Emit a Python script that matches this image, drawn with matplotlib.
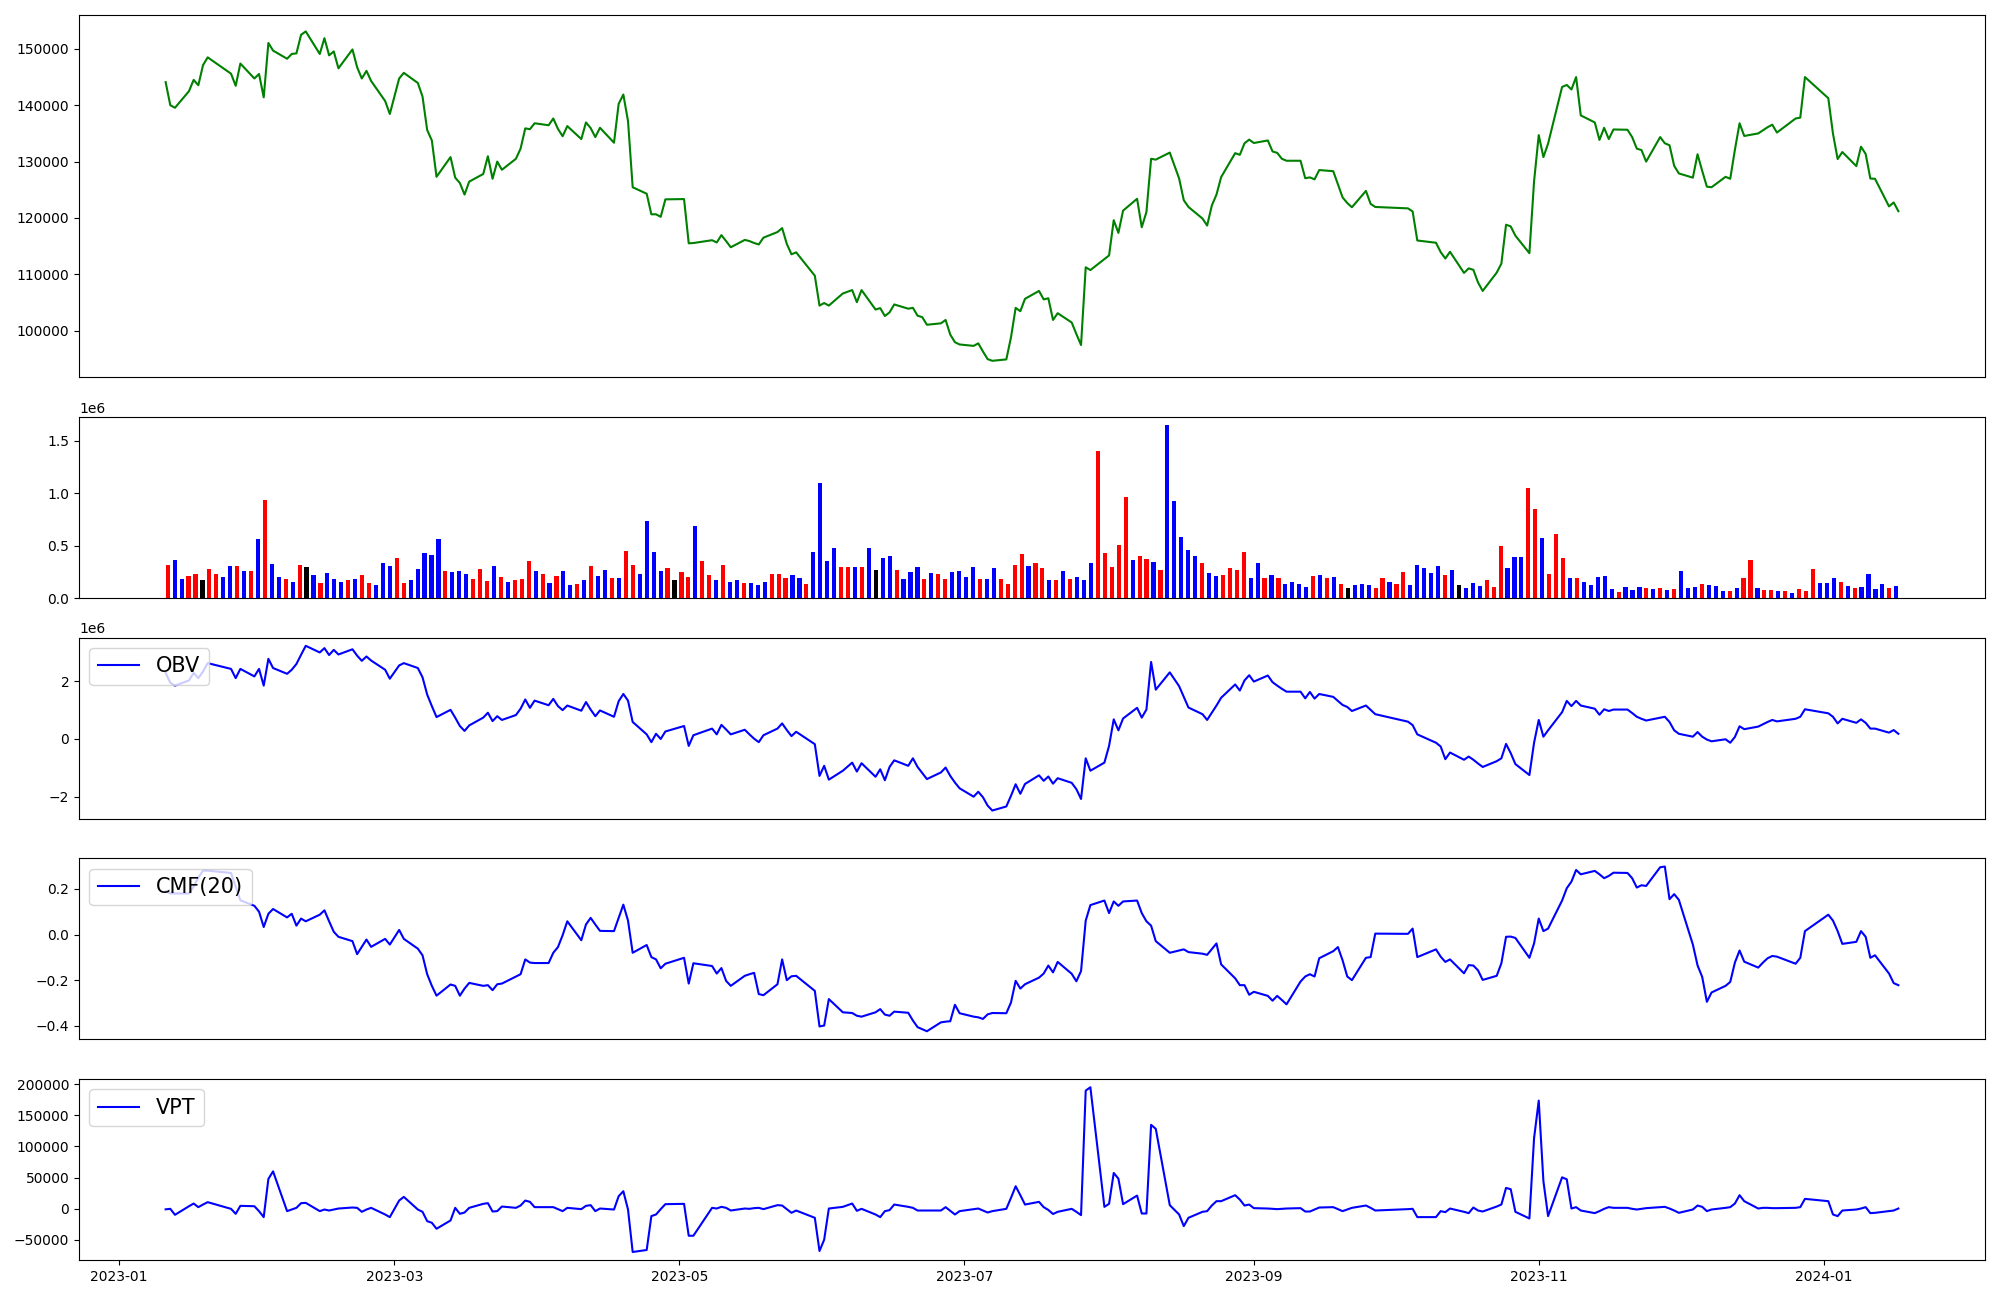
import numpy as np
import pandas as pd
import matplotlib
matplotlib.use("Agg")
import matplotlib.pyplot as plt

# KRX holidays inside the window
holidays = ["2023-01-23", "2023-01-24", "2023-03-01", "2023-05-01", "2023-05-05",
            "2023-05-29", "2023-06-06", "2023-08-15", "2023-09-28", "2023-09-29",
            "2023-10-02", "2023-10-03", "2023-10-09", "2023-12-25", "2023-12-29",
            "2024-01-01"]
dates = pd.bdate_range("2023-01-11", "2024-01-17")
dates = dates[~dates.isin(pd.to_datetime(holidays))]

close = [
    144100, 140000, 139550, 142500, 144500, 143550, 147100, 148500, 145600, 143450, 147400, 144750, 145550,
    141400, 151050, 149700, 148250, 149100, 149200, 152500, 153100, 149100, 151900, 148850, 149550, 146550,
    149900, 146750, 144750, 146100, 144300, 140750, 138450,
    144750, 145750, 143950, 141550, 135600, 133750, 127300, 130800, 127150, 126200, 124150, 126450, 127800,
    130950, 126950, 130000, 128550, 130500, 132300, 135900, 135750, 136800,
    136450, 137650, 135800, 134500, 136300, 134000, 136950, 135950, 134350, 136000, 133350, 140250, 141900,
    137200, 125450, 124300, 120650, 120650, 120200, 123300,
    123350, 115500, 115550, 116050, 115650, 116950, 115900, 114800, 116100, 115900, 115550, 115300, 116500,
    117500, 118200, 115400, 113550, 113900, 109750, 104450,
    104900, 104450, 106600, 107200, 105050, 107200, 103750, 104000, 102600, 103250, 104650, 103900, 104050,
    102650, 102400, 101050, 101300, 101900, 99300, 97950, 97550,
    97300, 97750, 96300, 94950, 94650, 94900, 98800, 104050, 103450, 105650, 107050, 105550, 105750,
    101900, 103100, 101450, 99400, 97450, 111250, 110750, 112700,
    113350, 119600, 117350, 121300, 123400, 118350, 121050, 130500, 130350, 131600, 127000, 123150, 121950,
    119900, 118650, 122200, 124150, 127250, 131500, 131200, 133250, 133900,
    133300, 133750, 131800, 131550, 130500, 130150, 130150, 127050, 127200, 126850, 128500, 128300, 126000,
    123650, 122650, 121900, 124800, 122500, 121950,
    121700, 121150, 116000, 115600, 113950, 112800, 114000, 110250, 111050, 110800, 108550, 107050, 110300,
    111900, 118800, 118500, 116850, 113750, 126500,
    134700, 130800, 133200, 143250, 143600, 142800, 145000, 138200, 136950, 133850, 136000, 134000, 135700,
    135650, 134350, 132300, 132050, 130000, 134350, 133250, 132900, 129250,
    127900, 127150, 131300, 128350, 125550, 125450, 127300, 126950, 132100, 136800, 134550, 135000, 135550,
    136100, 136550, 135150, 137650, 137800, 145000,
    141250, 134950, 130450, 131700, 129200, 132650, 131350, 127000, 126950, 122050, 122750, 121200,
]

# volume in thousands of shares
volume_k = [
    314, 362, 181, 210, 229, 171, 276, 229, 200, 305, 305, 257, 257, 562, 933, 324, 200, 181, 152, 314,
    295, 219, 143, 238, 181, 152, 171, 181, 219, 143, 124, 333, 305, 381, 143, 171, 276, 429, 410, 562,
    257, 248, 257, 229, 181, 276, 162, 305, 200, 152, 171, 181, 352, 257, 229, 143, 210, 257, 124, 133,
    171, 305, 210, 267, 191, 191, 448, 314, 229, 733, 438, 257, 286, 171, 248, 200, 686, 352, 219, 171,
    314, 152, 171, 143, 143, 124,
    152, 229, 229, 191, 219, 191, 133, 438, 1095, 352, 476, 295, 295, 295, 295, 476, 267, 381, 400, 267,
    181, 248, 295, 181, 238, 229, 181, 248, 257, 200, 295, 181, 181, 286, 181, 133, 314, 419, 305, 333,
    286, 171, 171, 257, 181, 200, 171, 333, 1400, 429, 295, 505, 962, 362, 400, 371, 343, 267, 1648, 924,
    581, 457, 400, 333, 238, 210, 219, 286, 267, 438, 191, 333, 191, 219, 191, 133, 152, 133, 105, 210,
    219, 191, 200, 133, 95, 124,
    133, 124, 95, 191, 152, 133, 248, 124, 314, 286, 238, 305, 219, 267, 124, 95, 143, 114, 171, 105,
    495, 286, 391, 391, 1048, 848, 572, 229, 610, 381, 191, 191, 152, 124, 200, 210, 86, 57, 105, 76,
    105, 95, 86, 95, 76, 86, 257, 95, 105, 133, 124, 114, 67, 67, 95, 191, 362, 95, 76, 76,
    67, 67, 48, 86, 67, 276, 143, 143, 191, 152, 114, 95, 105, 229, 86, 133, 95, 114,
]

# candle direction per day: r = up, b = down, k = flat
candle = ("rbbrrkrrbb" "rbrbrbbrbr" "kbrbbbrbrr" "bbbrrbbbbb" "rbbbrrrbrb" "rrrbrbrbbr"
          "brbbrbrrbb" "bbrkrrbrrb" "rbbrbb"
          "brrrbbrbbb" "brrbrbkbbr" "bbbrbrrbbb" "brbbrrrrbr" "rbrbrbbbrr" "rrrbrrbrbb"
          "bbbrbbrrrr" "bbrbrbbbbr" "brbrkb"
          "bbrrbrrbbb" "bbrbkbbbrr" "rbbbrrbrrr" "brbbbbbrbb" "brbrbrbbbr" "bbbrbrrbrr"
          "brbrrrbbbr" "brbbbbrb")

# OBV in millions
obv_m = [
    2.29, 1.95, 1.85, 2.03, 2.29, 2.11, 2.34, 2.63, 2.43, 2.11, 2.43, 2.17, 2.43,
    1.85, 2.78, 2.46, 2.26, 2.40, 2.60, 2.92, 3.23, 3.00, 3.15, 2.91, 3.09, 2.93, 3.11, 2.89, 2.71, 2.86,
    2.72, 2.40, 2.09,
    2.55, 2.63, 2.46, 2.14, 1.54, 1.14, 0.76, 1.01, 0.74, 0.45, 0.28, 0.47, 0.74, 0.91, 0.62, 0.79, 0.66,
    0.83, 1.05, 1.37, 1.08, 1.33,
    1.17, 1.39, 1.14, 1.00, 1.16, 0.98, 1.28, 1.02, 0.79, 0.99, 0.77, 1.31, 1.56, 1.33, 0.59, 0.16, -0.11,
    0.18, 0.00, 0.26,
    0.45, -0.24, 0.13, 0.36, 0.16, 0.49, 0.33, 0.16, 0.32, 0.16, 0.01, -0.11, 0.13, 0.36, 0.54, 0.31, 0.10,
    0.25, -0.18, -1.28,
    -0.93, -1.41, -1.10, -0.82, -1.13, -0.84, -1.31, -1.05, -1.43, -0.97, -0.74, -0.93, -0.67, -0.97, -1.18,
    -1.39, -1.16, -0.99, -1.28, -1.51, -1.71,
    -2.00, -1.83, -2.02, -2.31, -2.48, -2.34, -1.97, -1.57, -1.90, -1.56, -1.26, -1.45, -1.30, -1.55, -1.36,
    -1.52, -1.74, -2.08, -0.67, -1.10, -0.82,
    -0.24, 0.68, 0.30, 0.71, 1.08, 0.74, 1.02, 2.67, 1.71, 2.31, 1.83, 1.46, 1.09, 0.86, 0.66, 0.91, 1.16,
    1.43, 1.89, 1.68, 2.03, 2.21,
    1.99, 2.20, 1.97, 1.85, 1.74, 1.64, 1.64, 1.41, 1.63, 1.40, 1.56, 1.46, 1.32, 1.18, 1.11, 0.97, 1.16,
    1.01, 0.86,
    0.60, 0.48, 0.16, -0.13, -0.26, -0.70, -0.47, -0.72, -0.61, -0.72, -0.85, -0.97, -0.77, -0.67, -0.17,
    -0.49, -0.87, -1.25, -0.13,
    0.66, 0.08, 0.30, 0.93, 1.32, 1.14, 1.32, 1.16, 1.05, 0.84, 1.03, 0.97, 1.02, 1.02, 0.90, 0.77, 0.70,
    0.64, 0.74, 0.77, 0.59, 0.30,
    0.18, 0.08, 0.24, 0.08, -0.02, -0.08, -0.01, -0.13, 0.07, 0.44, 0.34, 0.43, 0.51, 0.59, 0.66, 0.61, 0.70,
    0.77, 1.03,
    0.89, 0.77, 0.54, 0.70, 0.56, 0.68, 0.56, 0.36, 0.36, 0.22, 0.31, 0.18,
]

cmf20 = [
    0.19, 0.18, 0.18, 0.18, 0.21, 0.25, 0.28, 0.28, 0.27, 0.21, 0.15, 0.126, 0.10,
    0.033, 0.091, 0.112, 0.075, 0.091, 0.039, 0.070, 0.058, 0.087, 0.106, 0.058, 0.012, -0.010, -0.029,
    -0.086, -0.054, -0.022, -0.054, -0.019, -0.044,
    0.020, -0.019, -0.062, -0.091, -0.174, -0.225, -0.268, -0.219, -0.225, -0.268, -0.237, -0.212, -0.225,
    -0.222, -0.244, -0.218, -0.215, -0.184, -0.174, -0.109, -0.123, -0.125,
    -0.125, -0.080, -0.055, -0.003, 0.058, -0.025, 0.044, 0.073, 0.044, 0.016, 0.015, 0.073, 0.131, 0.061,
    -0.080, -0.046, -0.099, -0.109, -0.148, -0.128,
    -0.102, -0.215, -0.126, -0.138, -0.171, -0.147, -0.203, -0.225, -0.181, -0.174, -0.168, -0.261, -0.266,
    -0.218, -0.109, -0.200, -0.183, -0.181, -0.247, -0.403,
    -0.399, -0.283, -0.341, -0.344, -0.356, -0.360, -0.341, -0.327, -0.351, -0.356, -0.338, -0.343, -0.377,
    -0.406, -0.415, -0.424, -0.385, -0.382, -0.380, -0.308, -0.345,
    -0.360, -0.363, -0.370, -0.350, -0.344, -0.345, -0.298, -0.203, -0.237, -0.218, -0.189, -0.171, -0.136,
    -0.166, -0.120, -0.172, -0.205, -0.160, 0.061, 0.129, 0.149,
    0.094, 0.145, 0.126, 0.145, 0.149, 0.094, 0.058, 0.039, -0.029, -0.080, -0.070, -0.065, -0.077, -0.084,
    -0.089, -0.064, -0.039, -0.131, -0.192, -0.222, -0.222, -0.264,
    -0.251, -0.269, -0.290, -0.269, -0.287, -0.306, -0.206, -0.184, -0.174, -0.184, -0.104, -0.073, -0.055,
    -0.113, -0.184, -0.200, -0.102, -0.099, 0.004,
    0.003, 0.026, -0.099, -0.065, -0.097, -0.120, -0.109, -0.170, -0.134, -0.136, -0.157, -0.199, -0.181,
    -0.126, -0.010, -0.009, -0.015, -0.102, -0.039,
    0.070, 0.015, 0.026, 0.149, 0.203, 0.232, 0.283, 0.264, 0.279, 0.264, 0.247, 0.257, 0.271, 0.270, 0.247,
    0.206, 0.216, 0.213, 0.295, 0.298, 0.155, 0.177,
    0.152, -0.044, -0.135, -0.186, -0.295, -0.254, -0.225, -0.208, -0.123, -0.070, -0.119, -0.145, -0.123,
    -0.104, -0.094, -0.097, -0.128, -0.102, 0.015,
    0.087, 0.061, 0.015, -0.041, -0.032, 0.015, -0.010, -0.102, -0.091, -0.171, -0.213, -0.222,
]

vpt = [
    -1000, -200, -9800, 4000, 8300, 2500, 6700, 10500, -200, -8200, 4600, 4000, -4000,
    -13500, 47800, 60000, -3900, -1300, 1400, 8900, 9400, -3900, -1300, -2900, -1300, 300, 1900, 1400,
    -5000, -1300, 1400, -9300, -13500,
    13100, 19000, -1300, -5000, -20000, -22600, -32200, -18900, 1400, -8200, -6100, 1400, 7800, 8900,
    -4500, -3900, 3500, 1400, 5100, 13100, 11000, 2500,
    2500, 2500, -700, -3900, 1400, -700, 4600, 5700, -3900, 300, -1300, 20100, 28100, -1300, -69500,
    -66300, -11900, -9300, -700, 7300,
    7800, -43400, -43400, 1400, 300, 3000, 1400, -2900, 300, -200, 900, 1400, -700, 5700, 5100, -700,
    -6600, -2900, -14600, -67900,
    -49800, 300, 3000, 8300, -3400, -200, -9300, -13500, -3900, -2300, 6700, 3000, 1400, -2900, -2900,
    -2900, -2900, 2500, -3400, -9300, -3900,
    -700, 300, -2900, -6100, -3900, -200, 17400, 36100, 21700, 6700, 11000, 2500, -2000, -8500, -5000,
    -200, -5000, -10300, 189700, 195000, 3000,
    7800, 57400, 48300, 7300, 21100, -7700, -7700, 134700, 128300, 5700, -9300, -28000, -14600, -5000,
    -3900, 5100, 12100, 12100, 21700, 14700, 5100, 6700,
    900, 300, -200, -700, -200, 300, 900, -4500, -4500, -1300, 1900, 2500, -700, -3900, -1300, 1400,
    5100, 1400, -2900,
    -700, -200, -13500, -13500, -3900, -5500, 300, -5000, -7100, 1900, -2900, -4500, 3500, 6700, 33400,
    31300, -5000, -15700, 113300,
    173600, 44100, -11900, 50400, 47200, 300, 2500, -2900, -7100, -3900, -200, 2500, 1400, 1400, -200,
    -1300, -200, 900, 2500, 3000, 300, -2900,
    -6600, -1300, 5100, 3000, -3900, -1300, 1400, 2500, 8300, 21700, 12100, 300, 1400, 1400, 900, 900,
    1400, 2500, 15800,
    12100, -9300, -11900, -2900, -1300, 300, 2500, -7100, -6600, -3900, -2900, 300,
]

candle_colors = {"r": "red", "b": "blue", "k": "black"}
bar_colors = [candle_colors[c] for c in candle]

fig = plt.figure(figsize=(20, 13), dpi=100)
gs = fig.add_gridspec(5, 1, height_ratios=[2, 1, 1, 1, 1], left=0.0395, right=0.9925,
                      top=0.9885, bottom=0.0306, hspace=0.182)
ax_vpt = fig.add_subplot(gs[4])
ax_price = fig.add_subplot(gs[0], sharex=ax_vpt)
ax_vol = fig.add_subplot(gs[1])
ax_obv = fig.add_subplot(gs[2], sharex=ax_vpt)
ax_cmf = fig.add_subplot(gs[3], sharex=ax_vpt)

ax_price.plot(dates, close, color="green", linewidth=1.5)

idx = np.arange(len(volume_k))
ax_vol.bar(idx, np.array(volume_k) * 1e3, color=bar_colors, width=0.6)

ax_obv.plot(dates, np.array(obv_m) * 1e6, color="blue", label="OBV")
ax_obv.legend(loc="upper left", fontsize=15)

ax_cmf.plot(dates, cmf20, color="blue", label="CMF(20)")
ax_cmf.legend(loc="upper left", fontsize=15)

ax_vpt.plot(dates, vpt, color="blue", label="VPT")
ax_vpt.legend(loc="upper left", fontsize=15)

for ax in (ax_price, ax_vol, ax_obv, ax_cmf):
    ax.tick_params(axis="x", bottom=False, labelbottom=False)

fig.savefig("out.png", dpi=100)
